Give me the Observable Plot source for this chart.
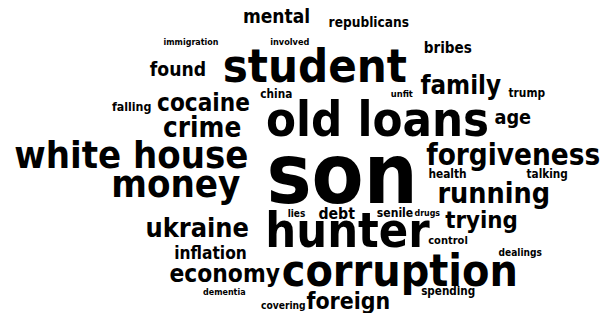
<!DOCTYPE html>
<html>
<head>
<meta charset="utf-8">
<script src="https://cdn.jsdelivr.net/npm/d3@7"></script>
<script src="https://cdn.jsdelivr.net/npm/@observablehq/plot@0.6"></script>
<style>
  html, body { margin: 0; padding: 0; background: #fff; }
</style>
</head>
<body>
<div id="chart"></div>
<script>
// Words in the cloud
const words = ["mental","republicans","immigration","involved","bribes","student","found","family","trump","china","unfit","falling","cocaine","old loans","age","crime","white house","son","forgiveness","health","talking","money","running","lies","debt","senile","drugs","trying","ukraine","hunter","control","inflation","dealings","economy","corruption","dementia","spending","covering","foreign"];
// Relative weight (word size) of each word
const weights = [19.0,13.6,8.9,9.1,15.1,46.9,19.2,25.7,11.8,11.7,9.3,12.3,24.1,48.6,19.7,27.6,37.9,84.3,29.4,11.8,11.7,38.1,28.5,10.0,15.7,12.1,8.8,23.8,26.9,48.3,11.0,17.2,10.1,24.3,44.4,8.9,11.6,10.2,22.9];
// Layout position of each word in the cloud (horizontal centre, baseline)
const cx = [276,368.3,190.5,289.3,447.3,314.3,177.5,460.3,526.3,275.8,401.3,131.2,203,377,512.3,201.7,130.8,341.5,512.7,447,546.7,175.3,493.3,296,336.2,394.5,426.8,481,196.7,347,447.5,210,519.7,224.2,399.3,223.8,447.7,282.8,347.8];
const cy = [22.7,26.7,44,44,52.3,81.7,75,93.3,96.7,97.3,96.7,110,110.7,135,123.3,136.7,167,202,164,177.3,177.3,196.5,202.3,216,218.3,216,215,227.3,236.7,246.7,243.3,258.3,255,281.7,285,294,294,308.3,308.3];

const data = words.map((w, i) => ({word: w, weight: weights[i], x: cx[i], y: cy[i]}));

const chart = Plot.plot({
  width: 616,
  height: 313,
  margin: 0,
  x: {domain: [0, 616], range: [0, 616], axis: null},
  y: {domain: [0, 313], range: [0, 313], axis: null},
  style: {fontFamily: "'DejaVu Sans Condensed', 'DejaVu Sans'", background: "#fff"},
  marks: [
    Plot.text(data, {
      x: "x",
      y: "y",
      text: "word",
      fontSize: "weight",
      fontWeight: "bold",
      textAnchor: "middle",
      lineAnchor: "bottom",
      fill: "#000"
    })
  ]
});
document.getElementById("chart").appendChild(chart);
</script>
</body>
</html>
